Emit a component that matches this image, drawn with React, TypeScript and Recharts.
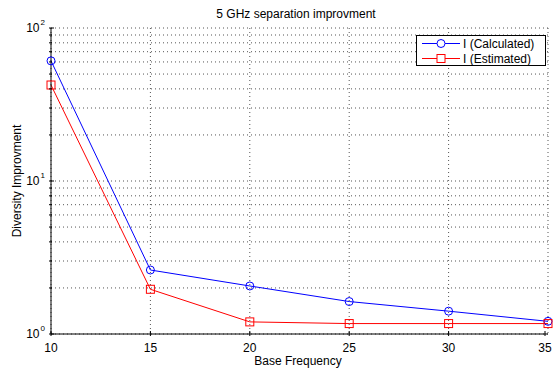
import { CartesianGrid, Legend, Line, LineChart, XAxis, YAxis } from 'recharts';

const FREQ = [10, 15, 20, 25, 30, 35];
const CALCULATED = [61, 2.62, 2.06, 1.63, 1.41, 1.21];
const ESTIMATED = [42.4, 1.96, 1.2, 1.17, 1.17, 1.17];
const X_TICKS = [10, 15, 20, 25, 30, 35];
const Y_TICKS = [1, 2, 3, 4, 5, 6, 7, 8, 9, 10, 20, 30, 40, 50, 60, 70, 80, 90, 100];

const BLUE = '#0000ff';
const RED = '#ff0000';
const FONT = '"Liberation Sans", Arial, sans-serif';

const data = FREQ.map((f, i) => ({ f, calc: CALCULATED[i], est: ESTIMATED[i] }));

const isDecade = (v: number) => Math.abs(Math.log10(v) - Math.round(Math.log10(v))) < 1e-9;

function LeftTick({ x, y, payload }: any) {
  const v = payload.value;
  const major = isDecade(v);
  return (
    <g>
      <line x1={x} x2={x + (major ? 5 : 3)} y1={y} y2={y} stroke="#000" />
      {major && (
        <text x={x - 4} y={y + 4} textAnchor="end" fontSize={12} fontFamily={FONT} fill="#000">
          10
          <tspan dx={1} dy={-7} fontSize={8}>{Math.round(Math.log10(v))}</tspan>
        </text>
      )}
    </g>
  );
}

function RightTick({ x, y, payload }: any) {
  const major = isDecade(payload.value);
  return <line x1={x} x2={x - (major ? 5 : 3)} y1={y} y2={y} stroke="#000" />;
}

function BottomTick({ x, y, payload }: any) {
  return (
    <g>
      <line x1={x} x2={x} y1={y} y2={y - 5} stroke="#000" />
      <text x={x} y={y + 16} textAnchor="middle" fontSize={12} fontFamily={FONT} fill="#000">
        {payload.value}
      </text>
    </g>
  );
}

function TopTick({ x, y }: any) {
  return <line x1={x} x2={x} y1={y} y2={y + 5} stroke="#000" />;
}

function SquareDot({ cx, cy }: any) {
  return <rect x={cx - 4} y={cy - 4} width={8} height={8} fill="none" stroke={RED} />;
}

function LegendBox() {
  const rows = [
    { label: 'I (Calculated)', color: BLUE, square: false },
    { label: 'I (Estimated)', color: RED, square: true },
  ];
  return (
    <div style={{ width: 128, height: 29, border: '1px solid #000', background: '#fff', fontFamily: FONT, fontSize: 12 }}>
      {rows.map((r) => (
        <div key={r.label} style={{ display: 'flex', alignItems: 'center', height: 15 }}>
          <svg width={46} height={15}>
            <line x1={5} x2={43} y1={7.5} y2={7.5} stroke={r.color} />
            {r.square ? (
              <rect x={20} y={3.5} width={8} height={8} fill="#fff" stroke={r.color} />
            ) : (
              <circle cx={24} cy={7.5} r={4} fill="#fff" stroke={r.color} />
            )}
          </svg>
          <span>{r.label}</span>
        </div>
      ))}
    </div>
  );
}

export default function App() {
  return (
    <div style={{ position: 'relative', width: 553, height: 371, background: '#fff', fontFamily: FONT }}>
      <style>{'body{margin:0}'}</style>
      <div style={{ position: 'absolute', left: 0, width: 592, top: 7, textAlign: 'center', fontSize: 12 }}>
        5 GHz separation improvment
      </div>
      <div style={{ position: 'absolute', left: 0, width: 596, top: 354, textAlign: 'center', fontSize: 12 }}>
        Base Frequency
      </div>
      <div style={{ position: 'absolute', left: 17, top: 181, width: 0, height: 0 }}>
        <div style={{ position: 'absolute', transform: 'translate(-50%, -50%) rotate(-90deg)', whiteSpace: 'nowrap', fontSize: 12 }}>
          Diversity Improvment
        </div>
      </div>
      <LineChart width={553} height={371} data={data} margin={{ top: 28, right: 5, left: 0, bottom: 0 }}>
        <CartesianGrid stroke="#555" strokeDasharray="1 3" />
        <XAxis dataKey="f" type="number" domain={[10, 35]} ticks={X_TICKS} height={37} stroke="#000" tickLine={false} tickSize={0} tick={<BottomTick />} />
        <XAxis xAxisId="top" orientation="top" dataKey="f" type="number" domain={[10, 35]} ticks={X_TICKS} height={0} stroke="#000" tickLine={false} tickSize={0} tick={<TopTick />} />
        <YAxis scale="log" domain={[1, 100]} ticks={Y_TICKS} width={51} stroke="#000" tickLine={false} tickSize={0} tick={<LeftTick />} allowDataOverflow interval={0} />
        <YAxis yAxisId="right" orientation="right" scale="log" domain={[1, 100]} ticks={Y_TICKS} width={0} stroke="#000" tickLine={false} tickSize={0} tick={<RightTick />} allowDataOverflow interval={0} />
        <Legend layout="horizontal" verticalAlign="middle" align="center" wrapperStyle={{ position: 'absolute', top: 35, left: 416, width: 'auto' }} content={() => <LegendBox />} />
        <Line dataKey="calc" stroke={BLUE} strokeWidth={1} dot={{ r: 4, fill: 'none', stroke: BLUE }} isAnimationActive={false} />
        <Line dataKey="est" stroke={RED} strokeWidth={1} dot={<SquareDot />} isAnimationActive={false} />
      </LineChart>
    </div>
  );
}
